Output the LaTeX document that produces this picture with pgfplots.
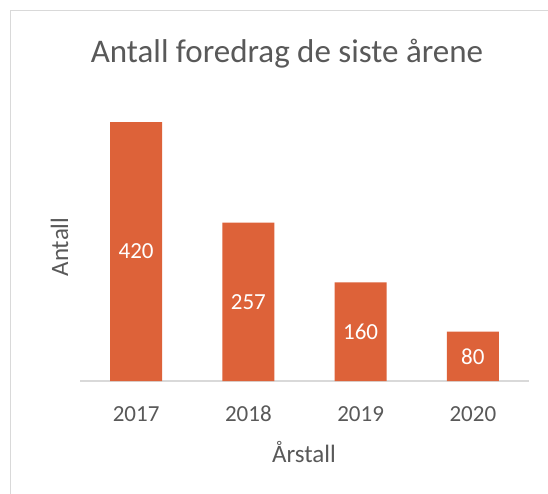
\documentclass[border=0pt]{standalone}
\usepackage{pgfplots}
\pgfplotsset{compat=1.18}
\usepackage{fontspec}
\setmainfont{Carlito}
\definecolor{barOrange}{HTML}{DD6239}
\definecolor{textGrey}{HTML}{595959}
\definecolor{lineGrey}{HTML}{D9D9D9}
\begin{document}
\begin{tikzpicture}[x=1pt,y=1pt]
\useasboundingbox[fill=white] (0,0) rectangle (548,-494);
\draw[lineGrey, line width=1.5pt] (10.5,-494) -- (10.5,-10.5) -- (548,-10.5);
\begin{axis}[
  at={(80pt,-381pt)}, anchor=south west,
  scale only axis, width=449pt, height=277.5pt,
  xmin=-0.5, xmax=3.5, ymin=0, ymax=450,
  axis x line=bottom, axis line style={draw=lineGrey, line width=1.5pt, -},
  hide y axis,
  xtick={0,1,2,3}, xticklabels={2017,2018,2019,2020},
  major tick length=0pt,
  xticklabel style={font=\fontsize{23}{23}\selectfont, text=textGrey, anchor=base, yshift=-40pt},
  ybar, bar width=52pt,
  clip=false,
  /pgf/number format/assume math mode=true,
  nodes near coords,
  visualization depends on={rawy \as \rawy},
  every node near coord/.append style={font=\fontsize{23}{23}\selectfont, text=white, anchor=center, yshift={-0.308333*\rawy}},
]
\addplot[fill=barOrange, draw=none] coordinates {(0,420) (1,257) (2,160) (3,80)};
\end{axis}
\node[anchor=base, text=textGrey, font=\fontsize{33}{33}\selectfont] at (287,-63) {Antall foredrag de siste årene};
\node[anchor=base, text=textGrey, font=\fontsize{25}{25}\selectfont] at (304,-462) {Årstall};
\node[anchor=base, rotate=90, text=textGrey, font=\fontsize{25}{25}\selectfont] at (68,-247) {Antall};
\end{tikzpicture}
\end{document}
